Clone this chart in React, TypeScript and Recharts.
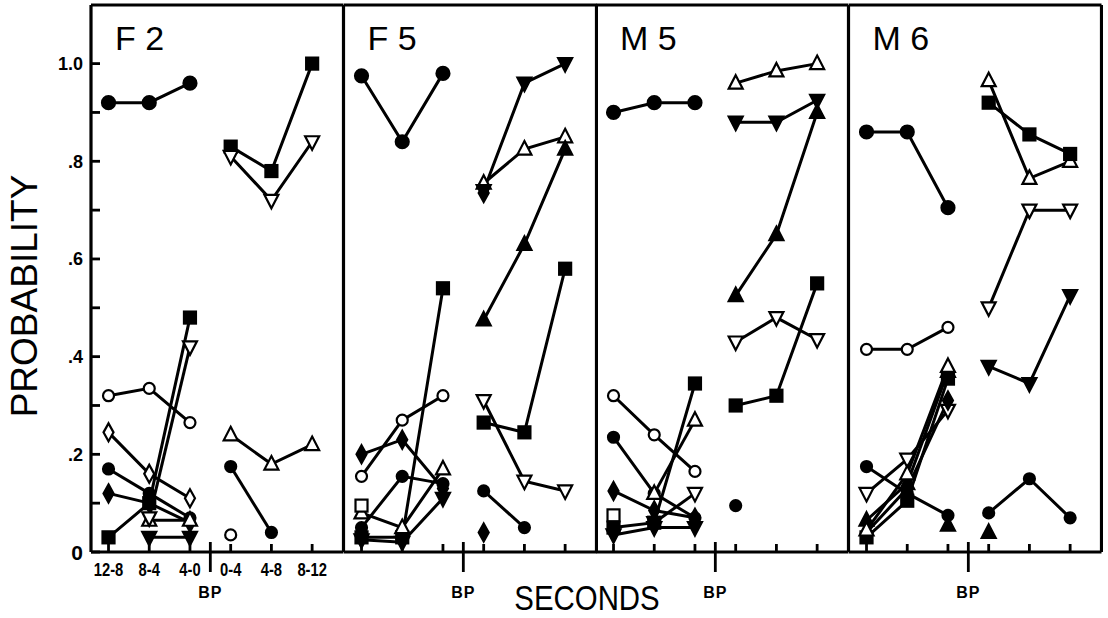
import React from "react";
import { LineChart, Line, XAxis, YAxis, ReferenceLine } from "recharts";

// x slots 0..2 are before the bar press, 3..5 after; BP sits at 2.5
const categories = ["12-8", "8-4", "4-0", "0-4", "4-8", "8-12"];
const xTicks = [0, 1, 2, 2.5, 3, 4, 5];
const yTicks = [0, 0.1, 0.2, 0.3, 0.4, 0.5, 0.6, 0.7, 0.8, 0.9, 1.0];
const yTickLabels = ["0", "", ".2", "", ".4", "", ".6", "", ".8", "", "1.0"];
const panelNames = ["F 2", "F 5", "M 5", "M 6"];

// F 2
const f2PreCircle = [0.92, 0.92, 0.96];
const f2PreSquare = [0.03, 0.1, 0.48];
const f2PreOpenTriDown = [null, 0.07, 0.42];
const f2PreOpenCircle = [0.32, 0.335, 0.265];
const f2PreOpenDiamond = [0.245, 0.16, 0.11];
const f2PreDot = [0.17, 0.12, 0.07];
const f2PreDiamond = [0.12, 0.1, 0.06];
const f2PreTriDown = [null, 0.03, 0.03];
const f2PreOpenTri = [null, 0.065, 0.065];
const f2PostSquare = [0.83, 0.78, 1.0];
const f2PostOpenTriDown = [0.81, 0.72, 0.84];
const f2PostOpenTri = [0.24, 0.18, 0.22];
const f2PostDot = [0.175, 0.04, null];
const f2PostOpenCircle = [0.035, null, null];

// F 5
const f5PreCircle = [0.975, 0.84, 0.98];
const f5PreSquare = [0.03, 0.03, 0.54];
const f5PreOpenCircle = [0.155, 0.27, 0.32];
const f5PreDiamond = [0.2, 0.23, 0.13];
const f5PreDot = [0.05, 0.155, 0.14];
const f5PreOpenTri = [0.08, 0.05, 0.17];
const f5PreTriDown = [0.025, 0.02, 0.11];
const f5PreOpenSquare = [0.095, null, null];
const f5PostTriDown = [0.74, 0.96, 1.0];
const f5PostOpenTri = [0.755, 0.825, 0.85];
const f5PostDiamondHigh = [0.735, null, null];
const f5PostTri = [0.475, 0.63, 0.825];
const f5PostSquare = [0.265, 0.245, 0.58];
const f5PostOpenTriDown = [0.31, 0.145, 0.125];
const f5PostDot = [0.125, 0.05, null];
const f5PostDiamond = [0.04, null, null];

// M 5
const m5PreCircle = [0.9, 0.92, 0.92];
const m5PreSquare = [0.05, 0.06, 0.345];
const m5PreOpenTri = [null, 0.12, 0.27];
const m5PreOpenCircle = [0.32, 0.24, 0.165];
const m5PreDot = [0.235, 0.12, 0.07];
const m5PreDiamond = [0.125, 0.085, 0.07];
const m5PreOpenTriDown = [null, 0.06, 0.12];
const m5PreOpenSquare = [0.075, null, null];
const m5PreTriDown = [0.035, 0.05, 0.05];
const m5PostOpenTri = [0.96, 0.985, 1.0];
const m5PostTriDown = [0.88, 0.88, 0.925];
const m5PostTri = [0.525, 0.65, 0.9];
const m5PostOpenTriDown = [0.43, 0.48, 0.435];
const m5PostSquare = [0.3, 0.32, 0.55];
const m5PostDot = [0.095, null, null];

// M 6
const m6PreCircle = [0.86, 0.86, 0.705];
const m6PreOpenCircle = [0.415, 0.415, 0.46];
const m6PreDot = [0.175, 0.12, 0.075];
const m6PreOpenTriDown = [0.12, 0.19, 0.29];
const m6PreOpenTri = [0.045, 0.16, 0.38];
const m6PreSquare = [0.03, 0.105, 0.355];
const m6PreDiamond = [0.04, 0.13, 0.31];
const m6PreTri = [0.065, 0.14, 0.37];
const m6PreTriLow = [null, null, 0.055];
const m6PostOpenTri = [0.965, 0.765, 0.8];
const m6PostSquare = [0.92, 0.855, 0.815];
const m6PostOpenTriDown = [0.5, 0.7, 0.7];
const m6PostTriDown = [0.38, 0.345, 0.525];
const m6PostDot = [0.08, 0.15, 0.07];
const m6PostTri = [0.04, null, null];

type Shape = "circle" | "dot" | "square" | "tri" | "triDown" | "diamond";
type Series = {
  shape: Shape;
  filled: boolean;
  phase: "pre" | "post";
  values: (number | null)[];
};

const ser = (
  shape: Shape,
  filled: boolean,
  phase: "pre" | "post",
  values: (number | null)[]
): Series => ({ shape, filled, phase, values });

const panelSeries: Series[][] = [
  [
    ser("circle", true, "pre", f2PreCircle),
    ser("circle", false, "pre", f2PreOpenCircle),
    ser("diamond", false, "pre", f2PreOpenDiamond),
    ser("dot", true, "pre", f2PreDot),
    ser("diamond", true, "pre", f2PreDiamond),
    ser("tri", false, "pre", f2PreOpenTri),
    ser("triDown", true, "pre", f2PreTriDown),
    ser("triDown", false, "pre", f2PreOpenTriDown),
    ser("square", true, "pre", f2PreSquare),
    ser("square", true, "post", f2PostSquare),
    ser("triDown", false, "post", f2PostOpenTriDown),
    ser("tri", false, "post", f2PostOpenTri),
    ser("dot", true, "post", f2PostDot),
    ser("circle", false, "post", f2PostOpenCircle),
  ],
  [
    ser("circle", true, "pre", f5PreCircle),
    ser("square", true, "pre", f5PreSquare),
    ser("circle", false, "pre", f5PreOpenCircle),
    ser("diamond", true, "pre", f5PreDiamond),
    ser("dot", true, "pre", f5PreDot),
    ser("tri", false, "pre", f5PreOpenTri),
    ser("triDown", true, "pre", f5PreTriDown),
    ser("square", false, "pre", f5PreOpenSquare),
    ser("diamond", true, "post", f5PostDiamondHigh),
    ser("tri", false, "post", f5PostOpenTri),
    ser("triDown", true, "post", f5PostTriDown),
    ser("tri", true, "post", f5PostTri),
    ser("square", true, "post", f5PostSquare),
    ser("triDown", false, "post", f5PostOpenTriDown),
    ser("dot", true, "post", f5PostDot),
    ser("diamond", true, "post", f5PostDiamond),
  ],
  [
    ser("circle", true, "pre", m5PreCircle),
    ser("circle", false, "pre", m5PreOpenCircle),
    ser("diamond", true, "pre", m5PreDiamond),
    ser("dot", true, "pre", m5PreDot),
    ser("triDown", false, "pre", m5PreOpenTriDown),
    ser("tri", false, "pre", m5PreOpenTri),
    ser("square", false, "pre", m5PreOpenSquare),
    ser("triDown", true, "pre", m5PreTriDown),
    ser("square", true, "pre", m5PreSquare),
    ser("tri", false, "post", m5PostOpenTri),
    ser("triDown", true, "post", m5PostTriDown),
    ser("tri", true, "post", m5PostTri),
    ser("triDown", false, "post", m5PostOpenTriDown),
    ser("square", true, "post", m5PostSquare),
    ser("dot", true, "post", m5PostDot),
  ],
  [
    ser("circle", true, "pre", m6PreCircle),
    ser("circle", false, "pre", m6PreOpenCircle),
    ser("dot", true, "pre", m6PreDot),
    ser("triDown", false, "pre", m6PreOpenTriDown),
    ser("diamond", true, "pre", m6PreDiamond),
    ser("tri", true, "pre", m6PreTri),
    ser("square", true, "pre", m6PreSquare),
    ser("tri", false, "pre", m6PreOpenTri),
    ser("tri", true, "pre", m6PreTriLow),
    ser("triDown", false, "post", m6PostOpenTriDown),
    ser("triDown", true, "post", m6PostTriDown),
    ser("tri", false, "post", m6PostOpenTri),
    ser("square", true, "post", m6PostSquare),
    ser("dot", true, "post", m6PostDot),
    ser("tri", true, "post", m6PostTri),
  ],
];

const FONT = "'Liberation Sans', Arial, sans-serif";
const X_DOMAIN: [number, number] = [-0.43, 5.77];
const Y_MAX = 1.12;
const PANEL_W = 252.5;
const FRAME_LEFT = 91;
const CHART_H = 612;

function buildRows(series: Series[]) {
  return categories.map((_, i) => {
    const row: Record<string, number | null> = { x: i };
    series.forEach((s, k) => {
      const j = s.phase === "pre" ? i : i - 3;
      row["s" + k] = j >= 0 && j < 3 ? s.values[j] ?? null : null;
    });
    return row;
  });
}

function Marker({ cx, cy, shape, filled }: { cx: number; cy: number; shape: Shape; filled: boolean }) {
  const p = { fill: filled ? "#000" : "#fff", stroke: "#000", strokeWidth: 2.2 };
  switch (shape) {
    case "circle":
      return <circle cx={cx} cy={cy} r={filled ? 6.5 : 5.5} {...p} />;
    case "dot":
      return <circle cx={cx} cy={cy} r={5.5} {...p} />;
    case "square":
      return <rect x={cx - 6} y={cy - 6} width={12} height={12} {...p} />;
    case "tri":
      return <polygon points={`${cx},${cy - 8} ${cx + 7},${cy + 5.5} ${cx - 7},${cy + 5.5}`} {...p} />;
    case "triDown":
      return <polygon points={`${cx},${cy + 8} ${cx + 7},${cy - 5.5} ${cx - 7},${cy - 5.5}`} {...p} />;
    default:
      return <polygon points={`${cx},${cy - 9} ${cx + 5},${cy} ${cx},${cy + 9} ${cx - 5},${cy}`} {...p} />;
  }
}

const dotFor = (s: Series) => (props: any) => {
  const { cx, cy, value, index } = props;
  if (value == null || cx == null || cy == null) return <g key={index} />;
  return (
    <g key={index}>
      <Marker cx={cx} cy={cy} shape={s.shape} filled={s.filled} />
    </g>
  );
};

const XTick = (props: any) => {
  const { x, y, payload, showCats } = props;
  const v = payload.value;
  if (v === 2.5) {
    return (
      <g>
        <line x1={x} x2={x} y1={y - 10} y2={y + 20} stroke="#000" strokeWidth={2.8} />
        <text x={x} y={y + 40} dy="0.36em" textAnchor="middle" fontFamily={FONT} fontWeight="bold" fontSize={16} letterSpacing={1} fill="#000">
          BP
        </text>
      </g>
    );
  }
  return (
    <g>
      <line x1={x} x2={x} y1={y} y2={y - 8} stroke="#000" strokeWidth={2.8} />
      {showCats && (
        <text
          transform={`translate(${x}, ${y + 18}) scale(0.82, 1)`}
          dy="0.36em"
          textAnchor="middle"
          fontFamily={FONT}
          fontWeight="bold"
          fontSize={18}
          fill="#000"
        >
          {categories[v]}
        </text>
      )}
    </g>
  );
};

const YTick = (props: any) => {
  const { x, y, index, showLabels } = props;
  const label = yTickLabels[index];
  return (
    <g>
      <line x1={x} x2={x + 9} y1={y} y2={y} stroke="#000" strokeWidth={2.8} />
      {showLabels && label && (
        <text x={x - 8} y={y} dy="0.36em" textAnchor="end" fontFamily={FONT} fontWeight="bold" fontSize={label === "0" ? 21 : 18} fill="#000">
          {label}
        </text>
      )}
    </g>
  );
};

function Panel({ index, series }: { index: number; series: Series[] }) {
  const first = index === 0;
  const yAxisW = first ? FRAME_LEFT : 0;
  const padL = first ? 0 : 2;
  const left = first ? 0 : FRAME_LEFT + index * PANEL_W - 2;
  const width = yAxisW + padL + PANEL_W + 2;
  const rows = buildRows(series);
  return (
    <div style={{ position: "absolute", left, top: 0 }}>
      <LineChart width={width} height={CHART_H} data={rows} margin={{ top: 5, right: 2, bottom: 0, left: padL }}>
        <XAxis
          dataKey="x"
          type="number"
          domain={X_DOMAIN}
          allowDataOverflow
          ticks={xTicks}
          interval={0}
          height={60}
          tickSize={0}
          tickMargin={0}
          tickLine={false}
          axisLine={{ stroke: "#000", strokeWidth: 3.2 }}
          tick={(p: any) => <XTick {...p} showCats={first} />}
        />
        <YAxis
          type="number"
          domain={[0, Y_MAX]}
          allowDataOverflow
          ticks={yTicks}
          interval={0}
          width={yAxisW}
          tickSize={0}
          tickMargin={0}
          tickLine={false}
          axisLine={{ stroke: "#000", strokeWidth: 3.2 }}
          tick={(p: any) => <YTick {...p} showLabels={first} />}
        />
        <ReferenceLine y={Y_MAX} stroke="#000" strokeWidth={3.2} />
        <ReferenceLine x={X_DOMAIN[1]} stroke="#000" strokeWidth={3.2} />
        {series.map((s, k) => (
          <Line
            key={k}
            type="linear"
            dataKey={"s" + k}
            stroke="#000"
            strokeWidth={3}
            connectNulls={false}
            dot={dotFor(s)}
            activeDot={false}
            isAnimationActive={false}
          />
        ))}
      </LineChart>
    </div>
  );
}

export default function App() {
  return (
    <div style={{ position: "absolute", left: 0, top: 0, width: 1108, height: 618, background: "#fff", overflow: "hidden" }}>
      {panelSeries.map((s, i) => (
        <Panel key={i} index={i} series={s} />
      ))}
      <svg width={1108} height={618} style={{ position: "absolute", left: 0, top: 0, pointerEvents: "none" }}>
        {panelNames.map((name, i) => (
          <text key={name} x={FRAME_LEFT + i * PANEL_W + 24} y={50} fontFamily={FONT} fontSize={34} fill="#000" style={{ whiteSpace: "pre" }}>
            {name}
          </text>
        ))}
        <text transform="translate(37, 296) rotate(-90)" textAnchor="middle" fontFamily={FONT} fontSize={37} fill="#000">
          PROBABILITY
        </text>
        <text transform="translate(587, 610) scale(0.84, 1)" textAnchor="middle" fontFamily={FONT} fontSize={35} fill="#000">
          SECONDS
        </text>
      </svg>
    </div>
  );
}
